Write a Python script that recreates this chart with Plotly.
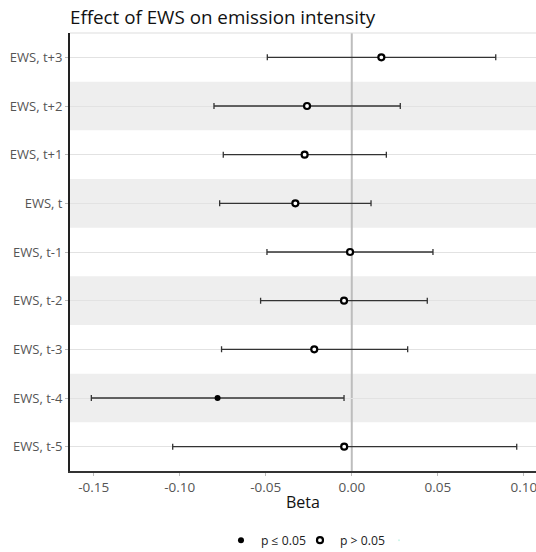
import plotly.graph_objects as go

categories = ["EWS, t+3", "EWS, t+2", "EWS, t+1", "EWS, t", "EWS, t-1",
              "EWS, t-2", "EWS, t-3", "EWS, t-4", "EWS, t-5"]
beta = [0.0172, -0.0260, -0.0274, -0.0328, -0.0010, -0.0045, -0.0218, -0.0780, -0.0044]
ci_low = [-0.0491, -0.0801, -0.0747, -0.0768, -0.0493, -0.0530, -0.0757, -0.1514, -0.1041]
ci_high = [0.0837, 0.0282, 0.0201, 0.0112, 0.0472, 0.0439, 0.0325, -0.0045, 0.0959]
significant = [False, False, False, False, False, False, False, True, False]
x_ticks = [-0.15, -0.10, -0.05, 0.00, 0.05, 0.10]
x_ticklabels = ["-0.15", "-0.10", "-0.05", "0.00", "0.05", "0.10"]

FONT = "Open Sans"
fig = go.Figure()

def add_group(sig, name, fill, size, lw):
    idx = [i for i, s in enumerate(significant) if s == sig]
    xs = [beta[i] for i in idx]
    ys = [categories[i] for i in idx]
    plus = [ci_high[i] - beta[i] for i in idx]
    minus = [beta[i] - ci_low[i] for i in idx]
    fig.add_trace(go.Scatter(
        x=xs, y=ys, mode="markers", name=name,
        marker=dict(symbol="circle", size=size, color=fill,
                    line=dict(color="black", width=lw)),
        error_x=dict(type="data", symmetric=False, array=plus, arrayminus=minus,
                     color="#333333", thickness=1.3, width=3),
    ))

add_group(True, "p ≤ 0.05", "black", 6, 0)
add_group(False, "p > 0.05", "white", 6, 2.2)
# invisible spacer entry so the legend box is wide enough for the last label
fig.add_trace(go.Scatter(x=[beta[0]], y=[categories[0]], mode="markers", name=" ",
                         marker=dict(opacity=0, size=1), hoverinfo="skip"))

shapes = []
n = len(categories)
for i in range(1, n, 2):
    shapes.append(dict(type="rect", xref="paper", yref="y", x0=0, x1=1,
                       y0=i - 0.5, y1=i + 0.5, fillcolor="#eeeeee",
                       line=dict(width=0), layer="below"))
shapes.append(dict(type="line", xref="x", yref="paper", x0=0, x1=0, y0=0, y1=1,
                   line=dict(color="#bdbdbd", width=2), layer="below"))
shapes.append(dict(type="line", xref="paper", yref="paper", x0=0, x1=1, y0=1, y1=1,
                   line=dict(color="#dddddd", width=1), layer="below"))

fig.update_layout(
    width=536, height=552,
    margin=dict(l=70, r=0, t=33, b=81, autoexpand=False),
    paper_bgcolor="white", plot_bgcolor="white",
    font=dict(family=FONT, color="#222222"),
    title=dict(text="Effect of EWS on emission intensity", x=0, xref="paper",
               xanchor="left", y=0.969, yanchor="middle",
               font=dict(size=18.8, color="#111111", family=FONT)),
    shapes=shapes,
    showlegend=True,
    legend=dict(orientation="h", x=0.324, xanchor="left", y=-0.158, yanchor="middle",
                font=dict(size=12.2, color="#222222"), itemwidth=30,
                entrywidth=34, traceorder="normal"),
    xaxis=dict(range=[-0.1638, 0.1071], tickvals=x_ticks, ticktext=x_ticklabels,
               showgrid=False, zeroline=False, showline=True, linecolor="#333333",
               linewidth=2, ticks="outside", ticklen=3, tickcolor="#bbbbbb",
               automargin=False, ticklabeloverflow="allow",
               tickfont=dict(size=13.5, color="#555555"),
               title=dict(text="Beta", font=dict(size=16, color="#111111"), standoff=2)),
    yaxis=dict(type="category", categoryorder="array", categoryarray=categories[::-1],
               range=[-0.5, n - 0.5], showgrid=True, gridcolor="#e2e2e2", gridwidth=1,
               zeroline=False, showline=True, linecolor="#222222", linewidth=2,
               ticks="outside", ticklen=3, tickcolor="#bbbbbb", automargin=False,
               tickfont=dict(size=13, color="#555555")),
)

fig.write_html("out.html", config={"displayModeBar": False},
               post_script="document.body.style.margin='0';document.body.style.overflow='hidden';")
